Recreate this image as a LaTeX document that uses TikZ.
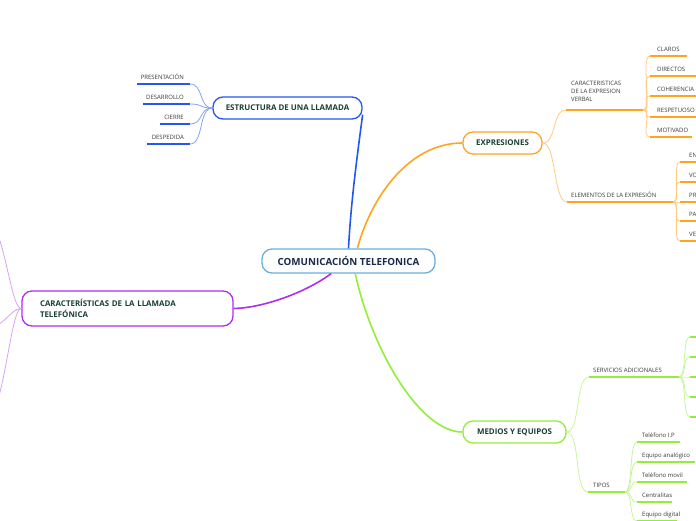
\documentclass[tikz,border=0pt]{standalone}
\usepackage{fontspec}
\setmainfont{Open Sans}
\usetikzlibrary{calc}

\definecolor{rootline}{HTML}{6AAEE0}
\definecolor{roottext}{HTML}{1B2A4A}
\definecolor{topictext}{HTML}{1A4034}
\definecolor{leaftext}{HTML}{3A3A3A}
\definecolor{bluemain}{HTML}{2457F0}
\definecolor{bluethin}{HTML}{86A3F7}
\definecolor{orangemain}{HTML}{FFA420}
\definecolor{orangethin}{HTML}{FFCB7E}
\definecolor{greenmain}{HTML}{92EE36}
\definecolor{greenthin}{HTML}{C6F59C}
\definecolor{purplemain}{HTML}{AE2EF0}
\definecolor{purplethin}{HTML}{D7A2F6}

\begin{document}
\begin{tikzpicture}[x=1pt, y=-1pt,
  root/.style={draw=rootline, line width=1.3pt, rounded corners=10pt, fill=white,
               minimum width=173pt, minimum height=24pt, inner sep=0pt,
               font=\fontsize{9.8}{11}\selectfont\bfseries, text=roottext},
  topic/.style={draw=#1, line width=1.3pt, rounded corners=10pt, fill=white,
                minimum height=22pt, inner sep=0pt,
                font=\fontsize{7.9}{11}\selectfont\bfseries, text=topictext},
  leaf/.style={font=\fontsize{6}{8.3}\selectfont, text=leaftext, inner sep=0pt},
  underline/.style={line width=2pt, draw=#1},
  twig/.style={line width=0.8pt, draw=#1},
  branch/.style={line width=1.6pt, draw=#1},
]
\useasboundingbox (0,0) rectangle (696,520);

% --- Central topic ---
\node[root] (root) at (348.5,261) {COMUNICACIÓN TELEFONICA};

% --- Estructura (blue) ---
\node[topic=bluemain, minimum width=149pt] (estr) at (287.5,108) {ESTRUCTURA DE UNA LLAMADA};
\draw[branch=bluemain] (root.north) .. controls (351,200) and (358,150) .. (estr.-5);
\foreach \n/\xa/\y/\t in {pres/137/84/PRESENTACIÓN, desa/143/104/DESARROLLO,
                          cier/160/124/CIERRE, desp/147/144/DESPEDIDA} {
  \coordinate (\n-s) at (\xa,\y);
  \coordinate (\n-e) at (190,\y);
  \draw[twig=bluethin] (estr.west) .. controls +(-14,0) and +(14,0) .. (\n-e);
  \draw[underline=bluemain] (\n-s) -- (\n-e);
  \node[leaf, anchor=base east] (\n) at ($(\n-e)+(-6,-5)$) {\t};
}

% --- Expresiones (orange) ---
\node[topic=orangemain, minimum width=79pt] (expr) at (502.5,143) {EXPRESIONES};
\draw[branch=orangemain] (root.55) .. controls (372,195) and (410,143) .. (expr.west);

\coordinate (cev-s) at (566,110);
\coordinate (cev-e) at (643,110);
\draw[twig=orangethin] (expr.east) .. controls +(14,0) and +(-14,0) .. (cev-s);
\draw[underline=orangemain] (cev-s) -- (cev-e);
\node[leaf, anchor=south west, align=left] (cev) at ($(cev-s)+(5,-8)$)
  {CARACTERISTICAS\\DE LA EXPRESION\\VERBAL};
\foreach \n/\y/\l/\t in {clar/56/37/CLAROS, dire/76/46/DIRECTOS, cohe/96/50/COHERENCIA,
                         resp/117/50/RESPETUOSO, moti/137/42/MOTIVADO} {
  \coordinate (\n-s) at (650,\y);
  \coordinate (\n-e) at (650+\l,\y);
  \draw[twig=orangethin] (cev-e) .. controls +(10,0) and +(-10,0) .. (\n-s);
  \draw[underline=orangemain] (\n-s) -- (\n-e);
  \node[leaf, anchor=base west] (\n) at ($(\n-s)+(7,-5)$) {\t};
}

\coordinate (ele-s) at (567,202);
\coordinate (ele-e) at (673,202);
\draw[twig=orangethin] (expr.east) .. controls +(14,0) and +(-14,0) .. (ele-s);
\draw[underline=orangemain] (ele-s) -- (ele-e);
\node[leaf, anchor=base west] (ele) at ($(ele-s)+(4,-5)$) {ELEMENTOS DE LA EXPRESIÓN};
\foreach \n/\y/\t in {ento/162/ENTONACIÓN, voca/182/VOCALIZACIÓN, pron/202/PRONUNCIACIÓN,
                      paus/221/PAUSAS, velo/241/VELOCIDAD} {
  \coordinate (\n-s) at (680,\y);
  \coordinate (\n-e) at (740,\y);
  \draw[twig=orangethin] (ele-e) .. controls +(8,0) and +(-8,0) .. (\n-s);
  \draw[underline=orangemain] (\n-s) -- (\n-e);
  \node[leaf, anchor=base west] (\n) at ($(\n-s)+(9,-5)$) {\t};
}

% --- Medios y equipos (green) ---
\node[topic=greenmain, minimum width=103pt] (medi) at (514.5,432) {MEDIOS Y EQUIPOS};
\draw[branch=greenmain] (root.-62) .. controls (372,350) and (420,432) .. (medi.west);

\coordinate (serv-s) at (589,377);
\coordinate (serv-e) at (679,377);
\draw[twig=greenthin] (medi.east) .. controls +(14,0) and +(-14,0) .. (serv-s);
\draw[underline=greenmain] (serv-s) -- (serv-e);
\node[leaf, anchor=base west] (serv) at ($(serv-s)+(4,-5)$) {SERVICIOS ADICIONALES};
\foreach \n/\y in {sa/337, sb/357, sc/377, sd/397, se/417} {
  \coordinate (\n-s) at (690,\y);
  \coordinate (\n-e) at (720,\y);
  \draw[twig=greenthin] (serv-e) .. controls +(8,0) and +(-8,0) .. (\n-s);
  \draw[underline=greenmain] (\n-s) -- (\n-e);
}

\coordinate (tipo-s) at (588,492);
\coordinate (tipo-e) at (625,492);
\draw[twig=greenthin] (medi.east) .. controls +(14,0) and +(-14,0) .. (tipo-s);
\draw[underline=greenmain] (tipo-s) -- (tipo-e);
\node[leaf, anchor=base west] (tipo) at ($(tipo-s)+(5,-5)$) {TIPOS};
\foreach \n/\y/\l/\t in {tip/442/43/Teléfono I.P, ana/462/58/Equipo analógico,
                         mov/482/50/Teléfono movil, cen/502/35/Centralitas,
                         dig/521/40/Equipo digital} {
  \coordinate (\n-s) at (637,\y);
  \coordinate (\n-e) at (637+\l,\y);
  \draw[twig=greenthin] (tipo-e) .. controls +(8,0) and +(-8,0) .. (\n-s);
  \draw[underline=greenmain] (\n-s) -- (\n-e);
  \node[leaf, anchor=base west] (\n) at ($(\n-s)+(5,-5)$) {\t};
}

% --- Caracteristicas de la llamada (purple) ---
\node[topic=purplemain, minimum width=211pt, minimum height=35pt, text width=175pt,
      inner xsep=18pt, align=left] (cara) at (127.5,308.5)
  {CARACTERÍSTICAS DE LA LLAMADA\\TELEFÓNICA};
\draw[branch=purplemain] (root.-144) .. controls (305,293) and (262,308) .. (cara.east);
\foreach \n/\y in {pa/212, pb/330, pc/428} {
  \coordinate (\n-e) at (-20,\y);
  \draw[twig=purplethin] (cara.west) .. controls +(-12,0) and +(24,0) .. (\n-e);
}

\end{tikzpicture}
\end{document}
